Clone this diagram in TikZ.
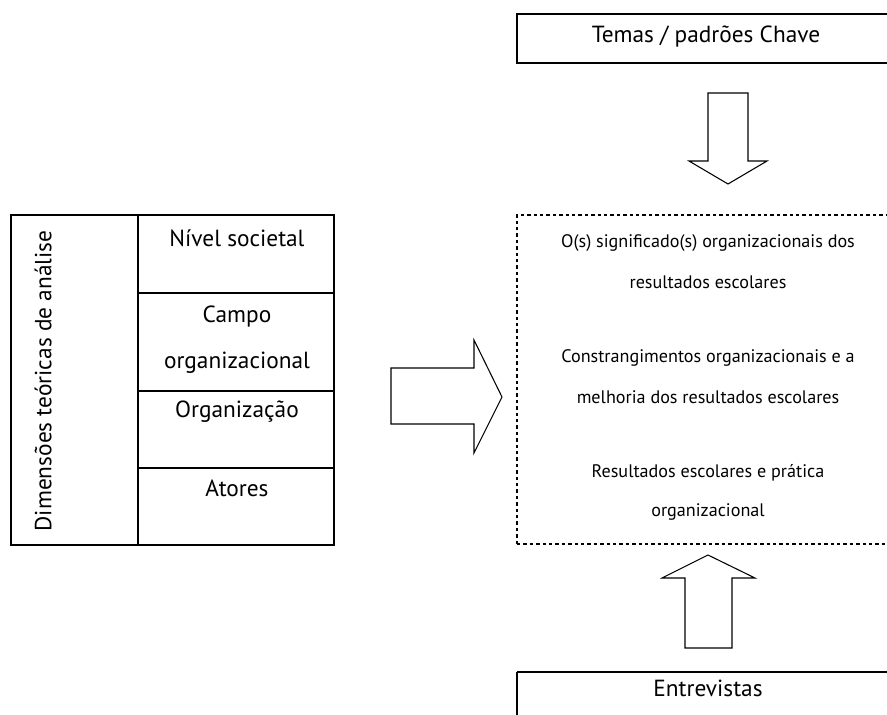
\documentclass[tikz,border=0pt]{standalone}
\usepackage{fontspec}
\setmainfont{PT Sans}
\begin{document}
\begin{tikzpicture}[x=0.75pt,y=-0.75pt,
  box/.style={line width=1.4pt},
  dots/.style={line width=1.9pt, dash pattern=on 2.6pt off 2.2pt},
  blockarrow/.style={line width=0.8pt, line join=miter},
  lbl/.style={font=\fontsize{17.5}{20}\selectfont, inner sep=0pt},
  small/.style={font=\fontsize{13.6}{16}\selectfont, inner sep=0pt}]
  \clip (0,0) rectangle (887,714);
  % top and bottom boxes
  \draw[box] (517,14) rectangle (900,63);
  \node[lbl] (temas) at (706,37) {Temas / padrões Chave};
  \draw[box] (517,672) -- (517,730);
  \draw[box] (517,672) -- (900,672);
  \node[lbl] (entrevistas) at (708,688) {Entrevistas};
  % dashed box
  \draw[dots] (517,544) -- (517,215) -- (900,215);
  \draw[dots] (517,544) -- (900,544);
  \node[small] (sig1) at (708,243) {O(s) significado(s) organizacionais dos};
  \node[small] (sig2) at (708,282) {resultados escolares};
  \node[small] (con1) at (708,358) {Constrangimentos organizacionais e a};
  \node[small] (con2) at (708,397) {melhoria dos resultados escolares};
  \node[small] (res1) at (708,473) {Resultados escolares e prática};
  \node[small] (res2) at (708,512) {organizacional};
  % table
  \draw[box] (11,215) rectangle (334,545);
  \draw[box] (138,215) -- (138,545);
  \foreach \y in {293,391,468} \draw[box] (138,\y) -- (334,\y);
  \node[lbl, rotate=90] (dim) at (43,381) {Dimensões teóricas de análise};
  \node[lbl] (nivel) at (237,238) {Nível societal};
  \node[lbl] (campo) at (237,317) {Campo};
  \node[lbl] (campob) at (237,363) {organizacional};
  \node[lbl] (org) at (237,412) {Organização};
  \node[lbl] (atores) at (237,488) {Atores};
  % block arrows
  \draw[blockarrow] (708,93) -- (748,93) -- (748,161) -- (767,161) -- (728,184)
    -- (689,161) -- (708,161) -- cycle;
  \draw[blockarrow] (685,648) -- (732,648) -- (732,578) -- (755,578) -- (708,555)
    -- (662,578) -- (685,578) -- cycle;
  \draw[blockarrow] (391,368) -- (474,368) -- (474,340) -- (502,397) -- (474,453)
    -- (474,424) -- (391,424) -- cycle;
\end{tikzpicture}
\end{document}
